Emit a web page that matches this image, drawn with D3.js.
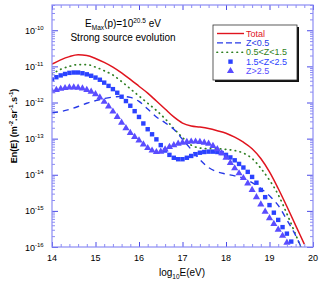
<!DOCTYPE html>
<html>
<head>
<meta charset="utf-8">
<script src="https://cdn.jsdelivr.net/npm/d3@7"></script>
<style>
body { margin: 0; background: #fff; }
text { font-family: "Liberation Sans", Arial, sans-serif; }
</style>
</head>
<body>
<script>
// energies (log10 E) used for the lines
var lineE = [14.0, 14.2, 14.4, 14.6, 14.8, 15.0, 15.2, 15.4, 15.6, 15.8, 16.0, 16.2, 16.4, 16.6, 16.8,
    17.0, 17.2, 17.4, 17.6, 17.8, 18.0, 18.2, 18.4, 18.6, 18.8, 19.0, 19.2, 19.4, 19.6, 19.8];
// log10 of E n(E)
var totalLog = [-10.94, -10.82, -10.73, -10.68, -10.70, -10.78, -10.89, -11.02, -11.18, -11.36, -11.55, -11.74, -11.96, -12.18, -12.40,
    -12.57, -12.65, -12.68, -12.72, -12.78, -12.85, -12.96, -13.10, -13.28, -13.55, -13.92, -14.38, -14.88, -15.40, -15.92];
var z05Log = [-12.28, -12.25, -12.19, -12.11, -12.02, -11.95, -11.89, -11.85, -11.83, -11.86, -11.97, -12.18, -12.40, -12.56, -12.74,
    -13.02, -13.30, -13.58, -13.80, -13.92, -13.98, -14.03, -14.10, -14.22, -14.38, -14.58, -14.85, -15.25, -15.68, -16.2];
var z15Log = [-11.22, -11.08, -11.00, -10.95, -10.95, -11.02, -11.12, -11.24, -11.42, -11.62, -11.82, -12.02, -12.22, -12.45, -12.72,
    -12.97, -13.18, -13.26, -13.28, -13.28, -13.30, -13.33, -13.40, -13.55, -13.82, -14.15, -14.55, -15.08, -15.65, -16.25];

// energies used for the markers
var markE = d3.range(0, 56).map(function(i) { return 14 + i / 10; });
var z25Log = [-11.36, -11.30, -11.25, -11.21, -11.18, -11.17, -11.17, -11.19, -11.22, -11.26,
    -11.31, -11.37, -11.45, -11.54, -11.63, -11.73, -11.84, -11.96, -12.09, -12.24,
    -12.40, -12.58, -12.74, -12.88, -13.02, -13.18, -13.33, -13.45, -13.53, -13.57,
    -13.57, -13.53, -13.48, -13.43, -13.39, -13.37, -13.36, -13.36, -13.37, -13.40,
    -13.45, -13.52, -13.60, -13.70, -13.80, -13.92, -14.06, -14.22, -14.42, -14.62,
    -14.84, -15.05, -15.25, -15.45, -15.63, -15.85];
var zHighLog = [-11.69, -11.65, -11.62, -11.60, -11.58, -11.58, -11.59, -11.61, -11.65, -11.70,
    -11.77, -11.86, -11.98, -12.11, -12.25, -12.40, -12.56, -12.71, -12.84, -12.95,
    -13.05, -13.16, -13.26, -13.33, -13.37, -13.36, -13.30, -13.23, -13.18, -13.14,
    -13.11, -13.09, -13.08, -13.08, -13.09, -13.11, -13.14, -13.20, -13.29, -13.40,
    -13.53, -13.67, -13.82, -13.96, -14.09, -14.24, -14.42, -14.62, -14.82, -15.02,
    -15.20, -15.36, -15.52, -15.69, -15.88, -16.08];

var xTicks = [14, 15, 16, 17, 18, 19, 20];
var yDecades = [-16, -15, -14, -13, -12, -11, -10];
var legendNames = ["Total", "Z<0.5", "0.5<Z<1.5", "1.5<Z<2.5", "Z>2.5"];

var w = 327, h = 283;
var pl = 52, pr = 313, pt = 5, pb = 247;
var axisCol = "#8c8cf4";
var red = "#e0141e", blue = "#2638e6", green = "#2f7f22", sqCol = "#2b42ff", triCol = "#5a4cff";

var svg = d3.select("body").append("svg")
    .attr("width", w)
    .attr("height", h);

var x = d3.scaleLinear().domain([14, 20]).range([pl, pr]);
var y = d3.scaleLog().domain([1e-16, 5e-10]).range([pb, pt]);

svg.append("clipPath").attr("id", "clip")
    .append("rect")
    .attr("x", pl).attr("y", pt)
    .attr("width", pr - pl).attr("height", pb - pt);

var plot = svg.append("g").attr("clip-path", "url(#clip)");

function pts(es, ls) {
    return es.map(function(e, i) { return [e, Math.pow(10, ls[i])]; });
}

var line = d3.line()
    .x(function(d) { return x(d[0]); })
    .y(function(d) { return y(d[1]); })
    .curve(d3.curveMonotoneX);

plot.append("path")
    .attr("d", line(pts(lineE, z15Log)))
    .attr("fill", "none")
    .attr("stroke", green)
    .attr("stroke-width", 1.7)
    .attr("stroke-linecap", "round")
    .attr("stroke-dasharray", "0.5,4.5");

plot.append("path")
    .attr("d", line(pts(lineE, z05Log)))
    .attr("fill", "none")
    .attr("stroke", blue)
    .attr("stroke-width", 1.4)
    .attr("stroke-dasharray", "6,5");

plot.selectAll("rect.sq")
    .data(pts(markE, z25Log))
    .enter()
    .append("rect")
    .attr("class", "sq")
    .attr("x", function(d) { return x(d[0]) - 2.2; })
    .attr("y", function(d) { return y(d[1]) - 2.2; })
    .attr("width", 4.4)
    .attr("height", 4.4)
    .attr("fill", sqCol);

var tri = d3.symbol().type(d3.symbolTriangle).size(22);
plot.selectAll("path.tri")
    .data(pts(markE, zHighLog))
    .enter()
    .append("path")
    .attr("class", "tri")
    .attr("d", tri)
    .attr("transform", function(d) { return "translate(" + x(d[0]) + "," + y(d[1]) + ")"; })
    .attr("fill", triCol);

plot.append("path")
    .attr("d", line(pts(lineE, totalLog)))
    .attr("fill", "none")
    .attr("stroke", red)
    .attr("stroke-width", 1.5);

// axes: ticks pointing inward on all four sides
var xMinor = d3.range(14, 20.001, 0.2).filter(function(v) { return Math.abs(v - Math.round(v)) > 0.01; });
var yMinor = y.ticks().filter(function(v) { return Math.abs(Math.log10(v) - Math.round(Math.log10(v))) > 0.01; });
var yMajor = yDecades.map(function(p) { return Math.pow(10, p); });

function styleAxis(g) {
    g.select(".domain").remove();
    g.selectAll("line").attr("stroke", axisCol);
}

svg.append("g").attr("transform", "translate(0," + pb + ")")
    .call(d3.axisBottom(x).tickValues(xMinor).tickSize(-3).tickFormat("")).call(styleAxis);
svg.append("g").attr("transform", "translate(0," + pb + ")")
    .call(d3.axisBottom(x).tickValues(xTicks).tickSize(-5).tickFormat("")).call(styleAxis)
    .selectAll("line").attr("stroke", "#4a4ae8");
svg.append("g").attr("transform", "translate(0," + pt + ")")
    .call(d3.axisTop(x).tickValues(xMinor).tickSize(-3).tickFormat("")).call(styleAxis);
svg.append("g").attr("transform", "translate(0," + pt + ")")
    .call(d3.axisTop(x).tickValues(xTicks).tickSize(-5).tickFormat("")).call(styleAxis)
    .selectAll("line").attr("stroke", "#4a4ae8");
svg.append("g").attr("transform", "translate(" + pl + ",0)")
    .call(d3.axisLeft(y).tickValues(yMinor).tickSize(-3).tickFormat("")).call(styleAxis);
svg.append("g").attr("transform", "translate(" + pl + ",0)")
    .call(d3.axisLeft(y).tickValues(yMajor).tickSize(-6).tickFormat("")).call(styleAxis)
    .selectAll("line").attr("stroke", "#4a4ae8");
svg.append("g").attr("transform", "translate(" + pr + ",0)")
    .call(d3.axisRight(y).tickValues(yMinor).tickSize(-3).tickFormat("")).call(styleAxis);
svg.append("g").attr("transform", "translate(" + pr + ",0)")
    .call(d3.axisRight(y).tickValues(yMajor).tickSize(-6).tickFormat("")).call(styleAxis)
    .selectAll("line").attr("stroke", "#4a4ae8");

svg.append("rect")
    .attr("x", pl).attr("y", pt)
    .attr("width", pr - pl).attr("height", pb - pt)
    .attr("fill", "none")
    .attr("stroke", axisCol)
    .attr("stroke-width", 1.2);

// tick labels
svg.selectAll("text.xt")
    .data(xTicks)
    .enter()
    .append("text")
    .attr("class", "xt")
    .attr("x", function(d) { return x(d); })
    .attr("y", 261)
    .attr("text-anchor", "middle")
    .attr("font-size", 9)
    .text(function(d) { return d; });

var yt = svg.selectAll("text.yt")
    .data(yDecades)
    .enter()
    .append("text")
    .attr("class", "yt")
    .attr("x", 25)
    .attr("y", function(d) { return y(Math.pow(10, d)) + 3.5; })
    .attr("font-size", 9);
yt.append("tspan").text("10");
yt.append("tspan").attr("font-size", 6).attr("dy", -4).text(function(d) { return "-" + Math.abs(d); });

// axis titles
var xl = svg.append("text")
    .attr("x", 182).attr("y", 276)
    .attr("text-anchor", "middle")
    .attr("font-size", 10);
xl.append("tspan").text("log");
xl.append("tspan").attr("font-size", 6.5).attr("dy", 3).text("10");
xl.append("tspan").attr("dy", -3).text("E(eV)");

var yl = svg.append("text")
    .attr("transform", "translate(17," + ((pt + pb) / 2) + ") rotate(-90)")
    .attr("text-anchor", "middle")
    .attr("font-size", 9)
    .attr("font-weight", "bold");
yl.append("tspan").text("En(E) (m");
yl.append("tspan").attr("font-size", 6).attr("dy", -4).text("-2");
yl.append("tspan").attr("dy", 4).text(".sr");
yl.append("tspan").attr("font-size", 6).attr("dy", -4).text("-1");
yl.append("tspan").attr("dy", 4).text(".s");
yl.append("tspan").attr("font-size", 6).attr("dy", -4).text("-1");
yl.append("tspan").attr("dy", 4).text(")");

// annotation
var t1 = svg.append("text")
    .attr("x", 123).attr("y", 27)
    .attr("text-anchor", "middle")
    .attr("font-size", 10);
t1.append("tspan").text("E");
t1.append("tspan").attr("font-size", 6.5).attr("dy", 2.5).text("Max");
t1.append("tspan").attr("dy", -2.5).text("(p)=10");
t1.append("tspan").attr("font-size", 6.5).attr("dy", -4).text("20.5");
t1.append("tspan").attr("dy", 4).text(" eV");

svg.append("text")
    .attr("x", 123).attr("y", 41)
    .attr("text-anchor", "middle")
    .attr("font-size", 10)
    .text("Strong source evolution");

// legend
var lg = svg.append("g");
lg.append("rect").attr("x", 215).attr("y", 27).attr("width", 84).attr("height", 55).attr("fill", "#111");
lg.append("rect").attr("x", 213).attr("y", 25).attr("width", 84).attr("height", 55)
    .attr("fill", "#fff").attr("stroke", "#333").attr("stroke-width", 0.8);

var legendCols = [red, blue, green, sqCol, triCol];
var legendY = d3.scaleLinear().domain([0, 4]).range([33.5, 71]);

lg.append("line").attr("x1", 217).attr("x2", 244).attr("y1", legendY(0)).attr("y2", legendY(0))
    .attr("stroke", red).attr("stroke-width", 1.4);
lg.append("line").attr("x1", 217).attr("x2", 244).attr("y1", legendY(1)).attr("y2", legendY(1))
    .attr("stroke", blue).attr("stroke-width", 1.3).attr("stroke-dasharray", "6,3");
lg.append("line").attr("x1", 217).attr("x2", 244).attr("y1", legendY(2)).attr("y2", legendY(2))
    .attr("stroke", green).attr("stroke-width", 1.7).attr("stroke-linecap", "round").attr("stroke-dasharray", "0.5,4.5");
lg.append("rect").attr("x", 228.3).attr("y", legendY(3) - 2.2).attr("width", 4.4).attr("height", 4.4).attr("fill", sqCol);
lg.append("path").attr("d", tri).attr("transform", "translate(230.5," + legendY(4) + ")").attr("fill", triCol);

lg.selectAll("text")
    .data(legendNames)
    .enter()
    .append("text")
    .attr("x", 246)
    .attr("y", function(d, i) { return legendY(i) + 3.2; })
    .attr("font-size", 9)
    .attr("fill", function(d, i) { return legendCols[i]; })
    .text(function(d) { return d; });
</script>
</body>
</html>
